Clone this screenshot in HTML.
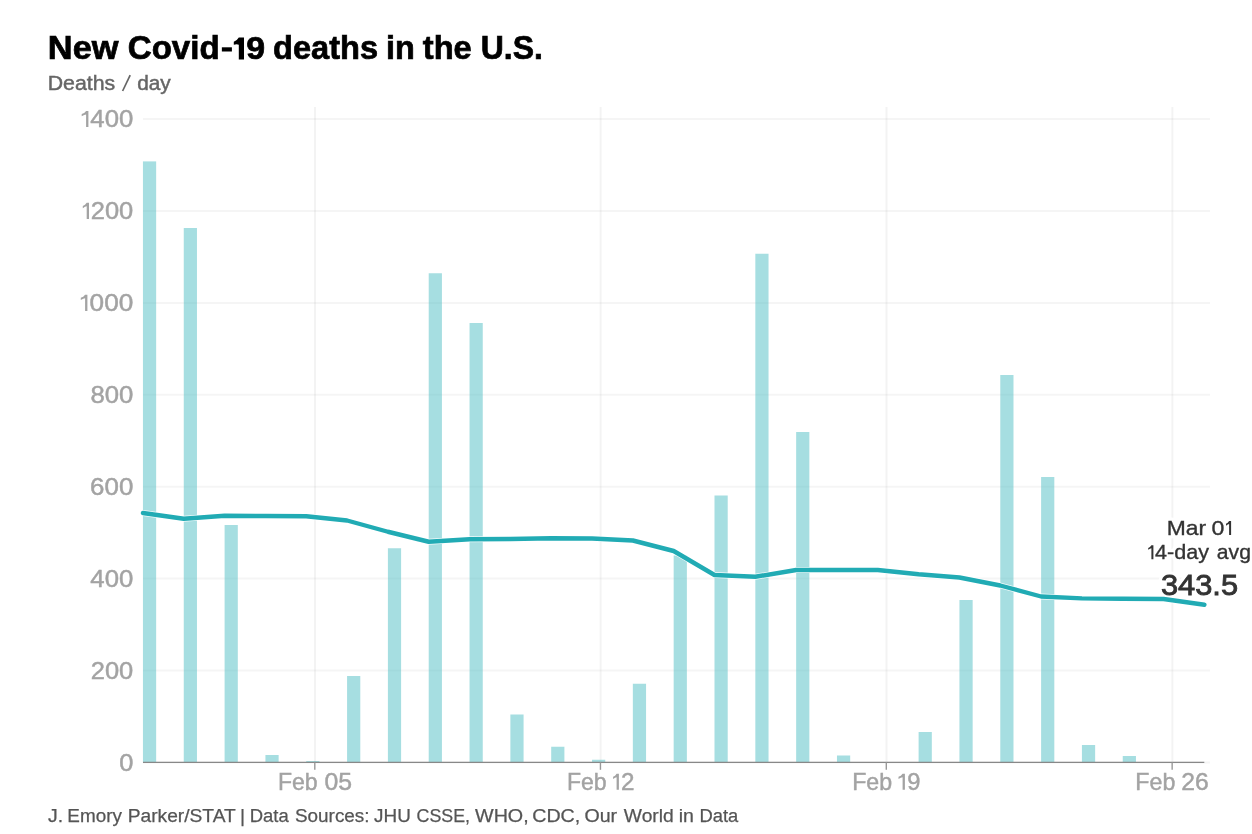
<!DOCTYPE html>
<html><head><meta charset="utf-8"><title>New Covid-19 deaths in the U.S.</title>
<style>
html,body{margin:0;padding:0;background:#fff;}
body{width:1252px;height:834px;overflow:hidden;font-family:"Liberation Sans",sans-serif;}
svg{display:block;will-change:transform;}
text{font-family:"Liberation Sans",sans-serif;}
</style></head><body>
<svg width="1252" height="834" viewBox="0 0 1252 834">

<g stroke="#000" stroke-opacity="0.04" stroke-width="2">
<line x1="143" x2="1210" y1="119.05" y2="119.05"/>
<line x1="143" x2="1210" y1="210.96" y2="210.96"/>
<line x1="143" x2="1210" y1="302.88" y2="302.88"/>
<line x1="143" x2="1210" y1="394.79" y2="394.79"/>
<line x1="143" x2="1210" y1="486.71" y2="486.71"/>
<line x1="143" x2="1210" y1="578.62" y2="578.62"/>
<line x1="143" x2="1210" y1="670.54" y2="670.54"/>
<line x1="143" x2="1210" y1="762.45" y2="762.45"/>
</g><g stroke="#000" stroke-opacity="0.048" stroke-width="2">
<line x1="315.0" x2="315.0" y1="107" y2="762"/>
<line x1="600.65" x2="600.65" y1="107" y2="762"/>
<line x1="886.5" x2="886.5" y1="107" y2="762"/>
<line x1="1172.35" x2="1172.35" y1="107" y2="762"/>
</g>
<g fill="#4dbdc4" fill-opacity="0.5">
<rect x="142.95" y="161.4" width="13.2" height="601.00"/>
<rect x="183.77" y="228" width="13.2" height="534.40"/>
<rect x="224.60" y="525" width="13.2" height="237.40"/>
<rect x="265.43" y="755" width="13.2" height="7.40"/>
<rect x="306.25" y="761.0" width="13.2" height="1.40"/>
<rect x="347.07" y="676" width="13.2" height="86.40"/>
<rect x="387.90" y="548.25" width="13.2" height="214.15"/>
<rect x="428.73" y="273.25" width="13.2" height="489.15"/>
<rect x="469.55" y="323" width="13.2" height="439.40"/>
<rect x="510.38" y="714.5" width="13.2" height="47.90"/>
<rect x="551.20" y="746.75" width="13.2" height="15.65"/>
<rect x="592.03" y="759.75" width="13.2" height="2.65"/>
<rect x="632.85" y="683.75" width="13.2" height="78.65"/>
<rect x="673.67" y="555.5" width="13.2" height="206.90"/>
<rect x="714.50" y="495.5" width="13.2" height="266.90"/>
<rect x="755.33" y="253.75" width="13.2" height="508.65"/>
<rect x="796.15" y="432" width="13.2" height="330.40"/>
<rect x="836.98" y="755.5" width="13.2" height="6.90"/>
<rect x="918.62" y="732" width="13.2" height="30.40"/>
<rect x="959.45" y="600" width="13.2" height="162.40"/>
<rect x="1000.28" y="375" width="13.2" height="387.40"/>
<rect x="1041.10" y="477" width="13.2" height="285.40"/>
<rect x="1081.92" y="745" width="13.2" height="17.40"/>
<rect x="1122.75" y="756" width="13.2" height="6.40"/>
</g>
<line x1="143" x2="1204.3" y1="762.4" y2="762.4" stroke="#888" stroke-width="1.3"/>
<line x1="314.8" x2="314.8" y1="762.4" y2="769.8" stroke="#999" stroke-width="1.4"/>
<line x1="600.4499999999999" x2="600.4499999999999" y1="762.4" y2="769.8" stroke="#999" stroke-width="1.4"/>
<line x1="886.3" x2="886.3" y1="762.4" y2="769.8" stroke="#999" stroke-width="1.4"/>
<line x1="1172.1499999999999" x2="1172.1499999999999" y1="762.4" y2="769.8" stroke="#999" stroke-width="1.4"/>
<g>
<text x="1166.65" y="535.10" font-size="20.8" textLength="39.38" lengthAdjust="spacingAndGlyphs" fill="#fff" stroke="#fff" stroke-width="7" stroke-linejoin="round">Mar</text>
<text x="1211.48" y="535.10" font-size="20.8" textLength="12.88" lengthAdjust="spacingAndGlyphs" fill="#fff" stroke="#fff" stroke-width="7" stroke-linejoin="round">0</text>
<text x="1155.14" y="559.30" font-size="20.8" textLength="53.98" lengthAdjust="spacingAndGlyphs" fill="#fff" stroke="#fff" stroke-width="7" stroke-linejoin="round">4-day</text>
<text x="1216.83" y="559.30" font-size="20.8" textLength="34.08" lengthAdjust="spacingAndGlyphs" fill="#fff" stroke="#fff" stroke-width="7" stroke-linejoin="round">avg</text>
<text x="1160.90" y="594.90" font-size="29.5" textLength="77.19" lengthAdjust="spacingAndGlyphs" fill="#fff" stroke="#fff" stroke-width="7" stroke-linejoin="round">343.5</text>
<path d="M1229.10,521.00L1231.10,521.00L1231.10,535.10L1229.10,535.10L1229.10,524.00Q1227.92,524.26 1226.00,525.65L1226.00,523.68Q1227.92,523.12 1229.10,521.00Z" fill="#fff" stroke="#fff" stroke-width="7" stroke-linejoin="round"/>
<path d="M1151.40,545.20L1153.40,545.20L1153.40,559.30L1151.40,559.30L1151.40,548.20Q1150.18,548.46 1148.20,549.85L1148.20,547.88Q1150.18,547.32 1151.40,545.20Z" fill="#fff" stroke="#fff" stroke-width="7" stroke-linejoin="round"/>
</g>
<polyline points="142.95,513 183.77,518.75 224.60,515.75 265.43,516 306.25,516.25 347.07,520.5 387.90,531.75 428.73,541.75 469.55,539.25 510.38,539 551.20,538.25 592.03,538.5 632.85,540.5 673.67,551.0 714.50,575 755.33,576.75 796.15,570 836.98,570 877.80,570 918.62,574.25 959.45,577.5 1000.28,585.5 1041.10,596.5 1081.92,598.4 1122.75,598.8 1163.58,599.0 1204.40,604.8" fill="none" stroke="#fff" stroke-opacity="0.85" stroke-width="5.9" stroke-linecap="round" stroke-linejoin="round"/>
<polyline points="142.95,513 183.77,518.75 224.60,515.75 265.43,516 306.25,516.25 347.07,520.5 387.90,531.75 428.73,541.75 469.55,539.25 510.38,539 551.20,538.25 592.03,538.5 632.85,540.5 673.67,551.0 714.50,575 755.33,576.75 796.15,570 836.98,570 877.80,570 918.62,574.25 959.45,577.5 1000.28,585.5 1041.10,596.5 1081.92,598.4 1122.75,598.8 1163.58,599.0 1204.40,604.8" fill="none" stroke="#21abb4" stroke-width="4.4" stroke-linecap="round" stroke-linejoin="round"/>
<g>
<text x="47.89" y="59.40" font-size="32.5" font-weight="bold" textLength="70.69" lengthAdjust="spacingAndGlyphs" fill="#000" stroke="#000" stroke-width="0.7">New</text>
<text x="127.78" y="59.40" font-size="32.5" font-weight="bold" textLength="91.89" lengthAdjust="spacingAndGlyphs" fill="#000" stroke="#000" stroke-width="0.7">Covid</text>
<text x="246.23" y="59.40" font-size="31" font-weight="bold" textLength="18.84" lengthAdjust="spacingAndGlyphs" fill="#000" stroke="#000" stroke-width="0.7">9</text>
<text x="273.05" y="59.40" font-size="32.5" font-weight="bold" textLength="105.03" lengthAdjust="spacingAndGlyphs" fill="#000" stroke="#000" stroke-width="0.7">deaths</text>
<text x="386.10" y="59.40" font-size="32.5" font-weight="bold" textLength="28.82" lengthAdjust="spacingAndGlyphs" fill="#000" stroke="#000" stroke-width="0.7">in</text>
<text x="422.77" y="59.40" font-size="32.5" font-weight="bold" textLength="49.03" lengthAdjust="spacingAndGlyphs" fill="#000" stroke="#000" stroke-width="0.7">the</text>
<text x="480.73" y="59.40" font-size="32.5" font-weight="bold" textLength="62.19" lengthAdjust="spacingAndGlyphs" fill="#000" stroke="#000" stroke-width="0.7">U.S.</text>
<text x="47.72" y="90.00" font-size="20" textLength="67.49" lengthAdjust="spacingAndGlyphs" fill="#666" stroke="#666" stroke-width="0.45">Deaths</text>
<text x="137.19" y="90.00" font-size="20" textLength="33.58" lengthAdjust="spacingAndGlyphs" fill="#666" stroke="#666" stroke-width="0.45">day</text>
<text x="47.98" y="822.00" font-size="18.8" textLength="15.10" lengthAdjust="spacingAndGlyphs" fill="#555" stroke="#555" stroke-width="0.25">J.</text>
<text x="67.37" y="822.00" font-size="18.8" textLength="54.51" lengthAdjust="spacingAndGlyphs" fill="#555" stroke="#555" stroke-width="0.25">Emory</text>
<text x="127.69" y="822.00" font-size="18.8" textLength="108.09" lengthAdjust="spacingAndGlyphs" fill="#555" stroke="#555" stroke-width="0.25">Parker/STAT</text>
<text x="239.97" y="822.00" font-size="18.8" textLength="5.07" lengthAdjust="spacingAndGlyphs" fill="#555" stroke="#555" stroke-width="0.25">|</text>
<text x="249.75" y="822.00" font-size="18.8" textLength="38.95" lengthAdjust="spacingAndGlyphs" fill="#555" stroke="#555" stroke-width="0.25">Data</text>
<text x="294.97" y="822.00" font-size="18.8" textLength="74.57" lengthAdjust="spacingAndGlyphs" fill="#555" stroke="#555" stroke-width="0.25">Sources:</text>
<text x="374.14" y="822.00" font-size="18.8" textLength="36.70" lengthAdjust="spacingAndGlyphs" fill="#555" stroke="#555" stroke-width="0.25">JHU</text>
<text x="416.53" y="822.00" font-size="18.8" textLength="53.51" lengthAdjust="spacingAndGlyphs" fill="#555" stroke="#555" stroke-width="0.25">CSSE,</text>
<text x="475.02" y="822.00" font-size="18.8" textLength="53.68" lengthAdjust="spacingAndGlyphs" fill="#555" stroke="#555" stroke-width="0.25">WHO,</text>
<text x="532.24" y="822.00" font-size="18.8" textLength="47.95" lengthAdjust="spacingAndGlyphs" fill="#555" stroke="#555" stroke-width="0.25">CDC,</text>
<text x="584.44" y="822.00" font-size="18.8" textLength="32.69" lengthAdjust="spacingAndGlyphs" fill="#555" stroke="#555" stroke-width="0.25">Our</text>
<text x="623.83" y="822.00" font-size="18.8" textLength="49.93" lengthAdjust="spacingAndGlyphs" fill="#555" stroke="#555" stroke-width="0.25">World</text>
<text x="678.65" y="822.00" font-size="18.8" textLength="15.22" lengthAdjust="spacingAndGlyphs" fill="#555" stroke="#555" stroke-width="0.25">in</text>
<text x="699.46" y="822.00" font-size="18.8" textLength="38.75" lengthAdjust="spacingAndGlyphs" fill="#555" stroke="#555" stroke-width="0.25">Data</text>
<text x="90.36" y="127.20" font-size="23.4" textLength="42.95" lengthAdjust="spacingAndGlyphs" fill="#a3a3a3" stroke="#a3a3a3" stroke-width="0.45">400</text>
<text x="90.75" y="219.11" font-size="23.4" textLength="42.55" lengthAdjust="spacingAndGlyphs" fill="#a3a3a3" stroke="#a3a3a3" stroke-width="0.45">200</text>
<text x="89.64" y="311.03" font-size="23.4" textLength="43.68" lengthAdjust="spacingAndGlyphs" fill="#a3a3a3" stroke="#a3a3a3" stroke-width="0.45">000</text>
<text x="90.40" y="402.94" font-size="23.4" textLength="42.91" lengthAdjust="spacingAndGlyphs" fill="#a3a3a3" stroke="#a3a3a3" stroke-width="0.45">800</text>
<text x="90.13" y="494.86" font-size="23.4" textLength="43.18" lengthAdjust="spacingAndGlyphs" fill="#a3a3a3" stroke="#a3a3a3" stroke-width="0.45">600</text>
<text x="90.36" y="586.77" font-size="23.4" textLength="42.95" lengthAdjust="spacingAndGlyphs" fill="#a3a3a3" stroke="#a3a3a3" stroke-width="0.45">400</text>
<text x="90.75" y="678.69" font-size="23.4" textLength="42.55" lengthAdjust="spacingAndGlyphs" fill="#a3a3a3" stroke="#a3a3a3" stroke-width="0.45">200</text>
<text x="119.16" y="770.60" font-size="23.4" textLength="14.13" lengthAdjust="spacingAndGlyphs" fill="#a3a3a3" stroke="#a3a3a3" stroke-width="0.45">0</text>
<text x="277.98" y="789.70" font-size="23.8" textLength="39.73" lengthAdjust="spacingAndGlyphs" fill="#a3a3a3" stroke="#a3a3a3" stroke-width="0.45">Feb</text>
<text x="324.58" y="789.95" font-size="23.4" textLength="27.59" lengthAdjust="spacingAndGlyphs" fill="#a3a3a3" stroke="#a3a3a3" stroke-width="0.45">05</text>
<text x="566.98" y="789.70" font-size="23.8" textLength="39.73" lengthAdjust="spacingAndGlyphs" fill="#a3a3a3" stroke="#a3a3a3" stroke-width="0.45">Feb</text>
<text x="621.11" y="789.95" font-size="23.4" textLength="13.48" lengthAdjust="spacingAndGlyphs" fill="#a3a3a3" stroke="#a3a3a3" stroke-width="0.45">2</text>
<text x="852.17" y="789.70" font-size="23.8" textLength="39.94" lengthAdjust="spacingAndGlyphs" fill="#a3a3a3" stroke="#a3a3a3" stroke-width="0.45">Feb</text>
<text x="907.18" y="789.95" font-size="23.4" textLength="13.19" lengthAdjust="spacingAndGlyphs" fill="#a3a3a3" stroke="#a3a3a3" stroke-width="0.45">9</text>
<text x="1135.37" y="789.70" font-size="23.8" textLength="39.94" lengthAdjust="spacingAndGlyphs" fill="#a3a3a3" stroke="#a3a3a3" stroke-width="0.45">Feb</text>
<text x="1181.29" y="789.95" font-size="23.4" textLength="27.48" lengthAdjust="spacingAndGlyphs" fill="#a3a3a3" stroke="#a3a3a3" stroke-width="0.45">26</text>
<path d="M238.80,37.50L244.00,37.50L244.00,59.50L238.80,59.50L238.80,44.76Q236.90,43.88 233.80,44.76L233.80,41.68Q236.90,40.80 238.80,37.50Z" fill="#000"/>
<path d="M86.10,110.95L88.40,110.95L88.40,127.10L86.10,127.10L86.10,114.40Q84.43,114.69 81.70,116.28L81.70,114.02Q84.43,113.37 86.10,110.95Z" fill="#a3a3a3"/>
<path d="M86.70,202.86L89.00,202.86L89.00,219.01L86.70,219.01L86.70,206.31Q85.22,206.61 82.80,208.19L82.80,205.93Q85.22,205.29 86.70,202.86Z" fill="#a3a3a3"/>
<path d="M85.10,294.78L87.40,294.78L87.40,310.93L85.10,310.93L85.10,298.23Q83.47,298.52 80.80,300.11L80.80,297.85Q83.47,297.20 85.10,294.78Z" fill="#a3a3a3"/>
<path d="M616.60,773.70L618.90,773.70L618.90,789.70L616.60,789.70L616.60,777.15Q615.27,777.43 613.10,778.98L613.10,776.74Q615.27,776.10 616.60,773.70Z" fill="#a3a3a3"/>
<path d="M902.60,773.70L904.90,773.70L904.90,789.70L902.60,789.70L902.60,777.15Q901.04,777.43 898.50,778.98L898.50,776.74Q901.04,776.10 902.60,773.70Z" fill="#a3a3a3"/>
<rect x="221.85" y="47.3" width="10.05" height="4.2" fill="#000"/>
<line x1="122.6" y1="91.0" x2="130.2" y2="75.2" stroke="#666" stroke-width="1.7"/>
</g><g>
<text x="1166.65" y="535.10" font-size="20.8" textLength="39.38" lengthAdjust="spacingAndGlyphs" fill="#333" stroke="#333" stroke-width="0.35">Mar</text>
<text x="1211.48" y="535.10" font-size="20.8" textLength="12.88" lengthAdjust="spacingAndGlyphs" fill="#333" stroke="#333" stroke-width="0.35">0</text>
<text x="1155.14" y="559.30" font-size="20.8" textLength="53.98" lengthAdjust="spacingAndGlyphs" fill="#333" stroke="#333" stroke-width="0.35">4-day</text>
<text x="1216.83" y="559.30" font-size="20.8" textLength="34.08" lengthAdjust="spacingAndGlyphs" fill="#333" stroke="#333" stroke-width="0.35">avg</text>
<text x="1160.90" y="594.90" font-size="29.5" textLength="77.19" lengthAdjust="spacingAndGlyphs" fill="#333" stroke="#333" stroke-width="0.85">343.5</text>
<path d="M1229.10,521.00L1231.10,521.00L1231.10,535.10L1229.10,535.10L1229.10,524.00Q1227.92,524.26 1226.00,525.65L1226.00,523.68Q1227.92,523.12 1229.10,521.00Z" fill="#333"/>
<path d="M1151.40,545.20L1153.40,545.20L1153.40,559.30L1151.40,559.30L1151.40,548.20Q1150.18,548.46 1148.20,549.85L1148.20,547.88Q1150.18,547.32 1151.40,545.20Z" fill="#333"/>
</g>
</svg></body></html>
